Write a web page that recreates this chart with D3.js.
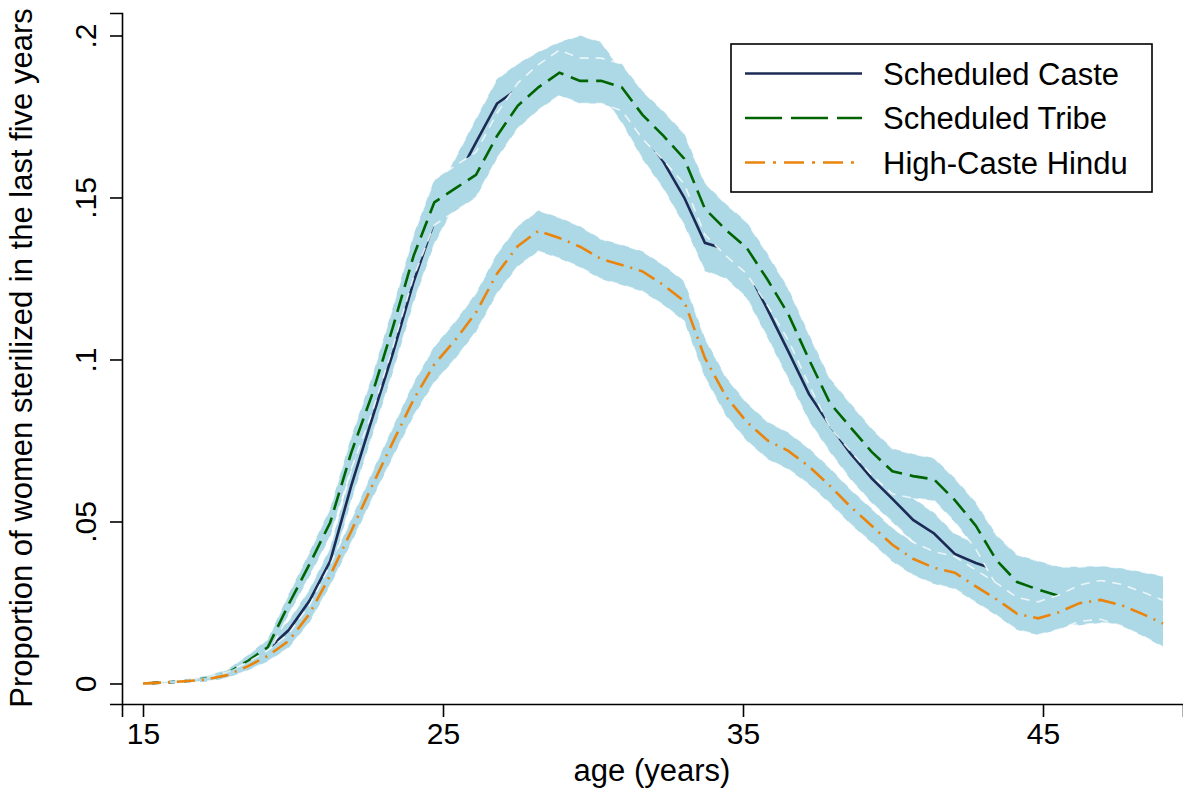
<!DOCTYPE html>
<html><head><meta charset="utf-8">
<script src="https://cdn.jsdelivr.net/npm/d3@7"></script>
<style>
html,body{margin:0;padding:0;background:#fff;}
svg{display:block;font-family:"Liberation Sans",Arial,Helvetica,sans-serif;}
</style></head>
<body>
<svg id="chart" width="1183" height="789"></svg>
<script>
// ---- data ----
const ages = [15.00,15.69,16.39,17.08,17.78,18.47,19.16,19.86,20.55,21.24,21.94,22.63,23.33,24.02,24.71,25.41,26.10,26.80,27.49,28.18,28.88,29.57,30.27,30.96,31.65,32.35,33.04,33.73,34.43,35.12,35.82,36.51,37.20,37.90,38.59,39.29,39.98,40.67,41.37,42.06,42.76,43.45,44.14,44.84,45.53,46.22,46.92,47.61,48.31,49.00];
const scheduledCaste = [0,0.0003,0.0007,0.0013,0.0028,0.0062,0.0105,0.0165,0.0255,0.0378,0.061,0.0815,0.102,0.124,0.1425,0.155,0.167,0.179,0.1835,0.187,0.190,0.192,0.190,0.181,0.170,0.161,0.150,0.136,0.134,0.128,0.1154,0.1025,0.0893,0.0796,0.0709,0.0633,0.057,0.0505,0.0463,0.040,0.0372,0.035,0.033,0.031,0.029,0.028,0.027,0.0265,0.026,0.0252];
const scheduledTribe = [0,0.0003,0.0007,0.0015,0.003,0.0068,0.0112,0.0245,0.0368,0.0497,0.0712,0.089,0.110,0.132,0.1485,0.1528,0.157,0.169,0.1783,0.184,0.1885,0.186,0.186,0.184,0.1755,0.169,0.162,0.1465,0.140,0.1345,0.1246,0.114,0.100,0.0865,0.079,0.0715,0.0655,0.064,0.063,0.0566,0.0487,0.038,0.0313,0.029,0.027,0.027,0.0275,0.027,0.026,0.025];
const highCasteHindu = [0,0.0003,0.0007,0.0012,0.0025,0.0052,0.0085,0.0132,0.0215,0.0334,0.047,0.0609,0.0745,0.0877,0.0985,0.106,0.1145,0.1265,0.135,0.1397,0.1375,0.1348,0.131,0.1292,0.1272,0.123,0.118,0.1005,0.0886,0.0808,0.075,0.0718,0.067,0.061,0.0545,0.0487,0.0428,0.0385,0.0357,0.0342,0.030,0.026,0.0215,0.0201,0.022,0.0248,0.0258,0.0242,0.0215,0.0185];
// confidence-interval half widths
const scHalfWidth = [0.0002,0.0003,0.0005,0.0008,0.0012,0.0018,0.0024,0.003,0.0036,0.0042,0.0048,0.0054,0.006,0.0065,0.007,0.0072,0.0074,0.0076,0.0078,0.008,0.008,0.008,0.008,0.008,0.0082,0.0084,0.0086,0.0088,0.009,0.009,0.0088,0.0086,0.0084,0.0082,0.008,0.0076,0.0072,0.0068,0.0064,0.0062,0.0062,0.0064,0.0066,0.0068,0.007,0.007,0.007,0.007,0.007,0.007];
const stHalfWidth = [0.0002,0.0003,0.0005,0.0008,0.0012,0.0018,0.0025,0.0032,0.0038,0.0044,0.005,0.0056,0.0062,0.0066,0.007,0.007,0.007,0.007,0.007,0.007,0.007,0.007,0.007,0.0072,0.0074,0.0076,0.0078,0.008,0.008,0.008,0.008,0.008,0.0078,0.0076,0.0074,0.0072,0.007,0.0068,0.0066,0.0068,0.0072,0.0078,0.0084,0.0088,0.009,0.009,0.0088,0.0086,0.0084,0.0082];
const hcHalfWidth = [0.0002,0.0003,0.0004,0.0006,0.0009,0.0013,0.0017,0.0022,0.0027,0.0032,0.0037,0.0042,0.0047,0.0052,0.0056,0.0058,0.006,0.0062,0.0063,0.0063,0.0063,0.0063,0.0062,0.0062,0.0062,0.0062,0.0062,0.0061,0.006,0.0059,0.0058,0.0057,0.0056,0.0055,0.0054,0.0053,0.0052,0.0051,0.005,0.005,0.005,0.005,0.005,0.0051,0.0053,0.0056,0.006,0.0064,0.0068,0.0072];

const seriesNames = ["Scheduled Caste","Scheduled Tribe","High-Caste Hindu"];
const xTicks = [15,25,35,45];
const yTicks = [0,0.05,0.1,0.15,0.2];
const yTickLabels = ["0",".05",".1",".15",".2"];
const xTitle = "age (years)";
const yTitle = "Proportion of women sterilized in the last five years";

// ---- styles ----
const series = [
  {name: seriesNames[0], v: scheduledCaste, hw: scHalfWidth, color: "#1c2a55", dash: null},
  {name: seriesNames[1], v: scheduledTribe, hw: stHalfWidth, color: "#006400", dash: "18,8"},
  {name: seriesNames[2], v: highCasteHindu, hw: hcHalfWidth, color: "#ea840c", dash: "18,7,2,7"}
];

const svg = d3.select("#chart");
const x = d3.scaleLinear().domain([14.3, 49.667]).range([122, 1183]);
const y = d3.scaleLinear().domain([-0.00633, 0.20694]).range([704, 13]);

const plot = svg.append("g");

series.forEach(s => {
  const pts = ages.map((a, i) => ({a, v: s.v[i], lo: s.v[i] - s.hw[i], hi: s.v[i] + s.hw[i]}));
  const area = d3.area().x(d => x(d.a)).y0(d => y(d.lo)).y1(d => y(d.hi));
  plot.append("path").attr("d", area(pts)).attr("fill", "#add8e6").attr("stroke", "none");
  const edge = key => d3.line().x(d => x(d.a)).y(d => y(d[key]))(pts);
  ["lo","hi"].forEach(k => plot.append("path").attr("d", edge(k))
    .attr("fill","none").attr("stroke","#ffffff").attr("stroke-opacity",0.75)
    .attr("stroke-width",1.6).attr("stroke-dasharray","9,7"));
  const line = d3.line().x(d => x(d.a)).y(d => y(d.v));
  plot.append("path").attr("d", line(pts)).attr("fill","none")
    .attr("stroke", s.color).attr("stroke-width", 2.6)
    .attr("stroke-dasharray", s.dash);
});

// ---- axes ----
const fontSize = 30;
const xAxis = svg.append("g").attr("transform","translate(0,704)")
  .call(d3.axisBottom(x).tickValues(xTicks).tickSize(13).tickPadding(6).tickFormat(d3.format("d")));
xAxis.select(".domain").attr("stroke","#000").attr("stroke-width",1.6);
xAxis.selectAll(".tick line").attr("stroke","#000").attr("stroke-width",1.6);
xAxis.selectAll(".tick text").attr("font-size",fontSize).attr("fill","#000")
  .attr("font-family","Liberation Sans, Arial, sans-serif");

const yAxis = svg.append("g").attr("transform","translate(122,0)")
  .call(d3.axisLeft(y).tickValues(yTicks).tickSize(12).tickFormat((d,i) => yTickLabels[i]));
yAxis.select(".domain").attr("stroke","#000").attr("stroke-width",1.6);
yAxis.selectAll(".tick line").attr("stroke","#000").attr("stroke-width",1.6);
yAxis.selectAll(".tick text").attr("font-size",fontSize).attr("fill","#000")
  .attr("font-family","Liberation Sans, Arial, sans-serif")
  .attr("x", null).attr("dy", null)
  .attr("text-anchor","middle")
  .attr("transform","translate(-26,0) rotate(-90)");

svg.append("text").attr("x", 652).attr("y", 781)
  .attr("text-anchor","middle").attr("font-size", 31).text(xTitle);

svg.append("text").attr("transform","translate(32,358) rotate(-90)")
  .attr("text-anchor","middle").attr("font-size",31).text(yTitle);

// ---- legend ----
const lg = svg.append("g");
lg.append("rect").attr("x",731).attr("y",44).attr("width",421).attr("height",148)
  .attr("fill","#fff").attr("stroke","#000").attr("stroke-width",1.6);
const legendDash = [null, "37,9", "20,8,3,8"];
series.forEach((s, i) => {
  const yy = 73.5 + i * 44.5;
  lg.append("line").attr("x1",745).attr("x2",862).attr("y1",yy).attr("y2",yy)
    .attr("stroke", s.color).attr("stroke-width",2.6).attr("stroke-dasharray", legendDash[i]);
  lg.append("text").attr("x",883).attr("y",yy+11).attr("font-size",31).text(s.name);
});
</script>
</body></html>
